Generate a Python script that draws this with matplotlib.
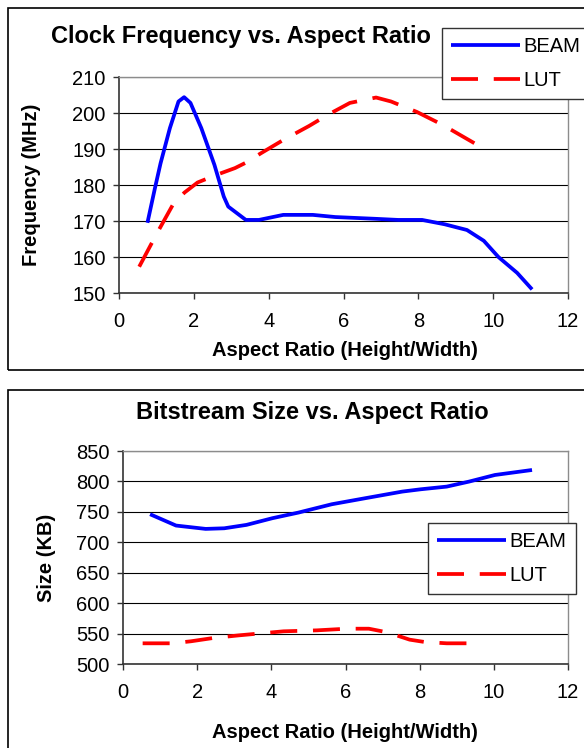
import matplotlib
matplotlib.use("Agg")
import matplotlib.pyplot as plt
from matplotlib.patches import Rectangle

plt.rcParams["font.family"] = ["Liberation Sans", "DejaVu Sans"]

W, H = 584, 748

# Clock frequency (MHz) vs aspect ratio
freq_beam_x = [0.76, 0.96, 1.11, 1.36, 1.59, 1.74, 1.91, 2.2, 2.55, 2.8, 2.92, 3.39,
               3.74, 4.39, 5.18, 5.78, 6.87, 7.46, 8.1, 8.7, 9.3, 9.75, 10.14, 10.64, 11.04]
freq_beam_y = [169.5, 179.1, 186.0, 195.8, 203.2, 204.4, 202.8, 195.8, 185.6, 176.8, 174.0, 170.3,
               170.3, 171.7, 171.7, 171.1, 170.6, 170.3, 170.3, 169.1, 167.5, 164.5, 160.0, 155.6, 151.0]
freq_lut_x = [0.54, 1.01, 1.46, 1.75, 2.1, 2.6, 3.1, 3.39, 3.79, 4.39, 5.08, 5.58,
              6.17, 6.87, 7.27, 7.96, 8.65, 9.65]
freq_lut_y = [157.3, 166.5, 174.9, 177.9, 180.7, 182.8, 184.7, 186.2, 188.8, 192.5, 196.4, 199.5,
              202.8, 204.3, 203.2, 200.3, 196.7, 190.7]

# Bitstream size (KB) vs aspect ratio
size_beam_x = [0.73, 1.43, 2.23, 2.73, 3.33, 4.03, 4.73, 5.63, 6.53, 7.53, 8.03, 8.73, 9.33, 10.03, 11.03]
size_beam_y = [746.1, 727.5, 722.0, 723.0, 728.6, 739.6, 748.8, 762.5, 772.4, 783.3, 787.1, 791.5,
               799.7, 810.6, 818.8]
size_lut_x = [0.53, 1.33, 1.83, 2.43, 3.13, 3.73, 4.33, 5.23, 6.03, 6.63, 7.13, 7.73, 8.13, 8.73, 9.63]
size_lut_y = [534.0, 534.0, 537.3, 542.7, 547.1, 550.4, 553.7, 555.3, 558.0, 558.0, 552.0, 540.0,
              536.2, 534.0, 534.0]

x_ticks = [0, 2, 4, 6, 8, 10, 12]
freq_ticks = [150, 160, 170, 180, 190, 200, 210]
size_ticks = [500, 550, 600, 650, 700, 750, 800, 850]


def px_rect(left, top, right, bottom):
    return [left / W, 1 - bottom / H, (right - left) / W, (bottom - top) / H]


def style_axes(ax, yticks):
    ax.set_xlim(0, 12)
    ax.set_ylim(yticks[0], yticks[-1])
    ax.set_xticks(x_ticks)
    ax.set_yticks(yticks)
    ax.grid(axis="y", color="black", linewidth=0.8)
    ax.set_axisbelow(True)
    for side in ("top", "right"):
        ax.spines[side].set_color("#8c8c8c")
        ax.spines[side].set_linewidth(1.0)
    for side in ("left", "bottom"):
        ax.spines[side].set_color("#333333")
        ax.spines[side].set_linewidth(1.2)
    ax.tick_params(axis="y", direction="out", length=4.5, width=1, color="#333333",
                   labelsize=14.5, pad=5)
    ax.tick_params(axis="x", direction="out", length=4, width=1, color="#333333",
                   labelsize=14.5, pad=10)


def plot_series(ax, bx, by, lx, ly):
    ax.plot(bx, by, color="#0000ff", linewidth=2.7, label="BEAM",
            solid_capstyle="butt", clip_on=False)
    ax.plot(lx, ly, color="#ff0000", linewidth=2.7, label="LUT",
            dashes=(7.2, 4.2), clip_on=False)


fig = plt.figure(figsize=(W / 100, H / 100), dpi=100)

# outer chart frames
for top, bottom in ((8, 370), (390, 760)):
    fig.patches.append(Rectangle((8 / W, 1 - bottom / H), 600 / W, (bottom - top) / H,
                                 transform=fig.transFigure, fill=False,
                                 edgecolor="black", linewidth=1.2))

legend_kw = dict(loc="upper left", bbox_transform=fig.transFigure, fontsize=14.5,
                 handlelength=3.4, handletextpad=0.2, labelspacing=0.75, borderpad=0.45,
                 fancybox=False, framealpha=1, edgecolor="#333333", borderaxespad=0)

# top chart
ax1 = fig.add_axes(px_rect(119, 77, 568, 293))
plot_series(ax1, freq_beam_x, freq_beam_y, freq_lut_x, freq_lut_y)
style_axes(ax1, freq_ticks)
fig.text(241 / W, 1 - 37 / H, "Clock Frequency vs. Aspect Ratio", ha="center", va="center",
         fontsize=17, fontweight="bold")
fig.text(32 / W, 1 - 185 / H, "Frequency (MHz)", ha="center", va="center", rotation=90,
         fontsize=14.5, fontweight="bold")
fig.text(345 / W, 1 - 350 / H, "Aspect Ratio (Height/Width)", ha="center", va="center",
         fontsize=14.5, fontweight="bold")
leg1 = ax1.legend(bbox_to_anchor=(442 / W, 1 - 28 / H), **legend_kw)
leg1.get_frame().set_linewidth(1.0)

# bottom chart
ax2 = fig.add_axes(px_rect(123, 451, 568, 664))
plot_series(ax2, size_beam_x, size_beam_y, size_lut_x, size_lut_y)
style_axes(ax2, size_ticks)
fig.text(312 / W, 1 - 412 / H, "Bitstream Size vs. Aspect Ratio", ha="center", va="center",
         fontsize=17, fontweight="bold")
fig.text(46 / W, 1 - 558 / H, "Size (KB)", ha="center", va="center", rotation=90,
         fontsize=14.5, fontweight="bold")
fig.text(345 / W, 1 - 733 / H, "Aspect Ratio (Height/Width)", ha="center", va="center",
         fontsize=14.5, fontweight="bold")
leg2 = ax2.legend(bbox_to_anchor=(428 / W, 1 - 523 / H), **legend_kw)
leg2.get_frame().set_linewidth(1.0)

fig.savefig("out.png", dpi=100)
